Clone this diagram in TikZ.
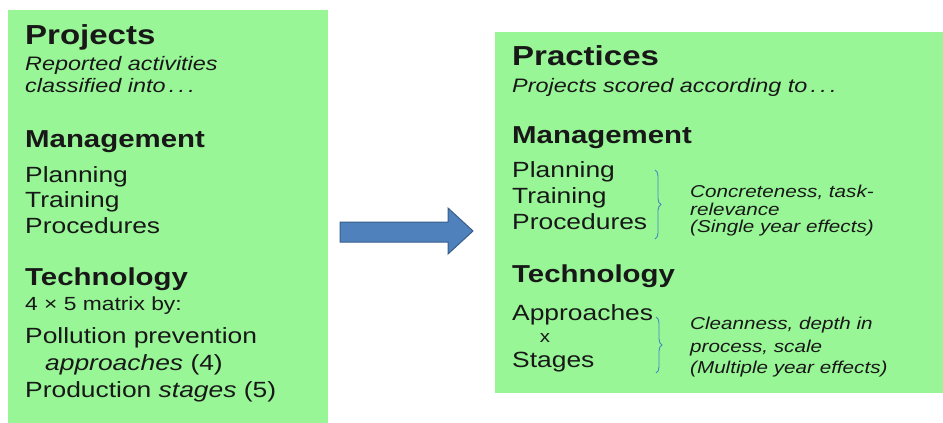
\documentclass[tikz,border=0pt]{standalone}
\usepackage{fontspec}
\setmainfont{Liberation Sans}[FakeStretch=1.2]
\usetikzlibrary{decorations.pathreplacing}

\definecolor{boxgreen}{RGB}{152,246,150}
\definecolor{arrblue}{RGB}{79,129,189}
\definecolor{arredge}{RGB}{56,93,138}
\definecolor{bracecol}{RGB}{74,134,190}
\definecolor{inkcol}{RGB}{24,24,24}

\tikzset{
  panel/.style={fill=boxgreen, inner sep=0pt, anchor=north west},
  txt/.style={anchor=base west, inner sep=0pt, text=inkcol},
  ttl/.style={txt, font=\bfseries\fontsize{27.5}{27.5}\selectfont},
  hdr/.style={txt, font=\bfseries\fontsize{24.5}{24.5}\selectfont},
  itm/.style={txt, font=\fontsize{22}{22}\selectfont},
  sub/.style={txt, font=\itshape\fontsize{19.5}{19.5}\selectfont},
  small/.style={txt, font=\fontsize{19}{19}\selectfont},
  note/.style={txt, font=\itshape\fontsize{17.2}{17.2}\selectfont},
  brc/.style={draw=bracecol, line width=0.9pt, decorate, decoration={brace, amplitude=6pt}},
}

\begin{document}
\begin{tikzpicture}[x=1pt,y=-1pt]
            \useasboundingbox (0,0) rectangle (943,423);

            % die beiden Kaesten
            \node[panel, minimum width=320pt, minimum height=413pt] (projbox) at (8,10) {};
            \node[panel, minimum width=448pt, minimum height=361pt] (pracbox) at (495,32) {};

            % Blockpfeil dazwischen
            \coordinate (atail) at (340,232);
            \coordinate (ahead) at (473,231);
            \fill[arrblue, draw=arredge, line width=1pt]
                (340,222) -- (448,222) -- (448,208) -- (ahead)
                -- (448,254) -- (448,242) -- (340,242) -- cycle;

            % linker Kasten
            \node[ttl] (pj) at (25,44) {Projects};
            \node[sub] (pj1) at (25,70) {Reported activities};
            \node[sub] (pj2) at (25,92) {classified into\,.\,.\,.};
            \node[hdr] (lmg) at (25,147) {Management};
            \node[itm] (lpl) at (25,182) {Planning};
            \node[itm] (ltr) at (25,207) {Training};
            \node[itm] (lpr) at (25,233) {Procedures};
            \node[hdr] (ltc) at (25,285) {Technology};
            \node[small] (lmx) at (25,310) {4 × 5 matrix by:};
            \node[itm] (lpp) at (25,343) {Pollution prevention};
            \node[itm] (lap) at (45,370) {\textit{approaches} (4)};
            \node[itm] (lst) at (25,397) {Production \textit{stages} (5)};

            % rechter Kasten
            \node[ttl] (pc) at (512,65) {Practices};
            \node[sub] (pc1) at (512,92) {Projects scored according to\,.\,.\,.};
            \node[hdr] (rmg) at (512,143) {Management};
            \node[itm] (rpl) at (512,177) {Planning};
            \node[itm] (rtr) at (512,203) {Training};
            \node[itm] (rpr) at (512,229) {Procedures};
            \node[hdr] (rtc) at (512,282) {Technology};
            \node[itm] (rap) at (512,320) {Approaches};
            \node[txt, anchor=base, font=\fontsize{17}{17}\selectfont] (rx) at (545,342) {x};
            \node[itm] (rst) at (512,367) {Stages};

            % Klammern
            \draw[brc] (655,170) -- (655,239);
            \draw[brc] (656,317) -- (656,373);

            \node[note] (n1) at (690,197) {Concreteness, task-};
            \node[note] (n2) at (690,215) {relevance};
            \node[note] (n3) at (690,232) {(Single year effects)};
            \node[note] (n4) at (690,329) {Cleanness, depth in};
            \node[note] (n5) at (690,352) {process, scale};
            \node[note] (n6) at (690,373) {(Multiple year effects)};

        \end{tikzpicture}
\end{document}
